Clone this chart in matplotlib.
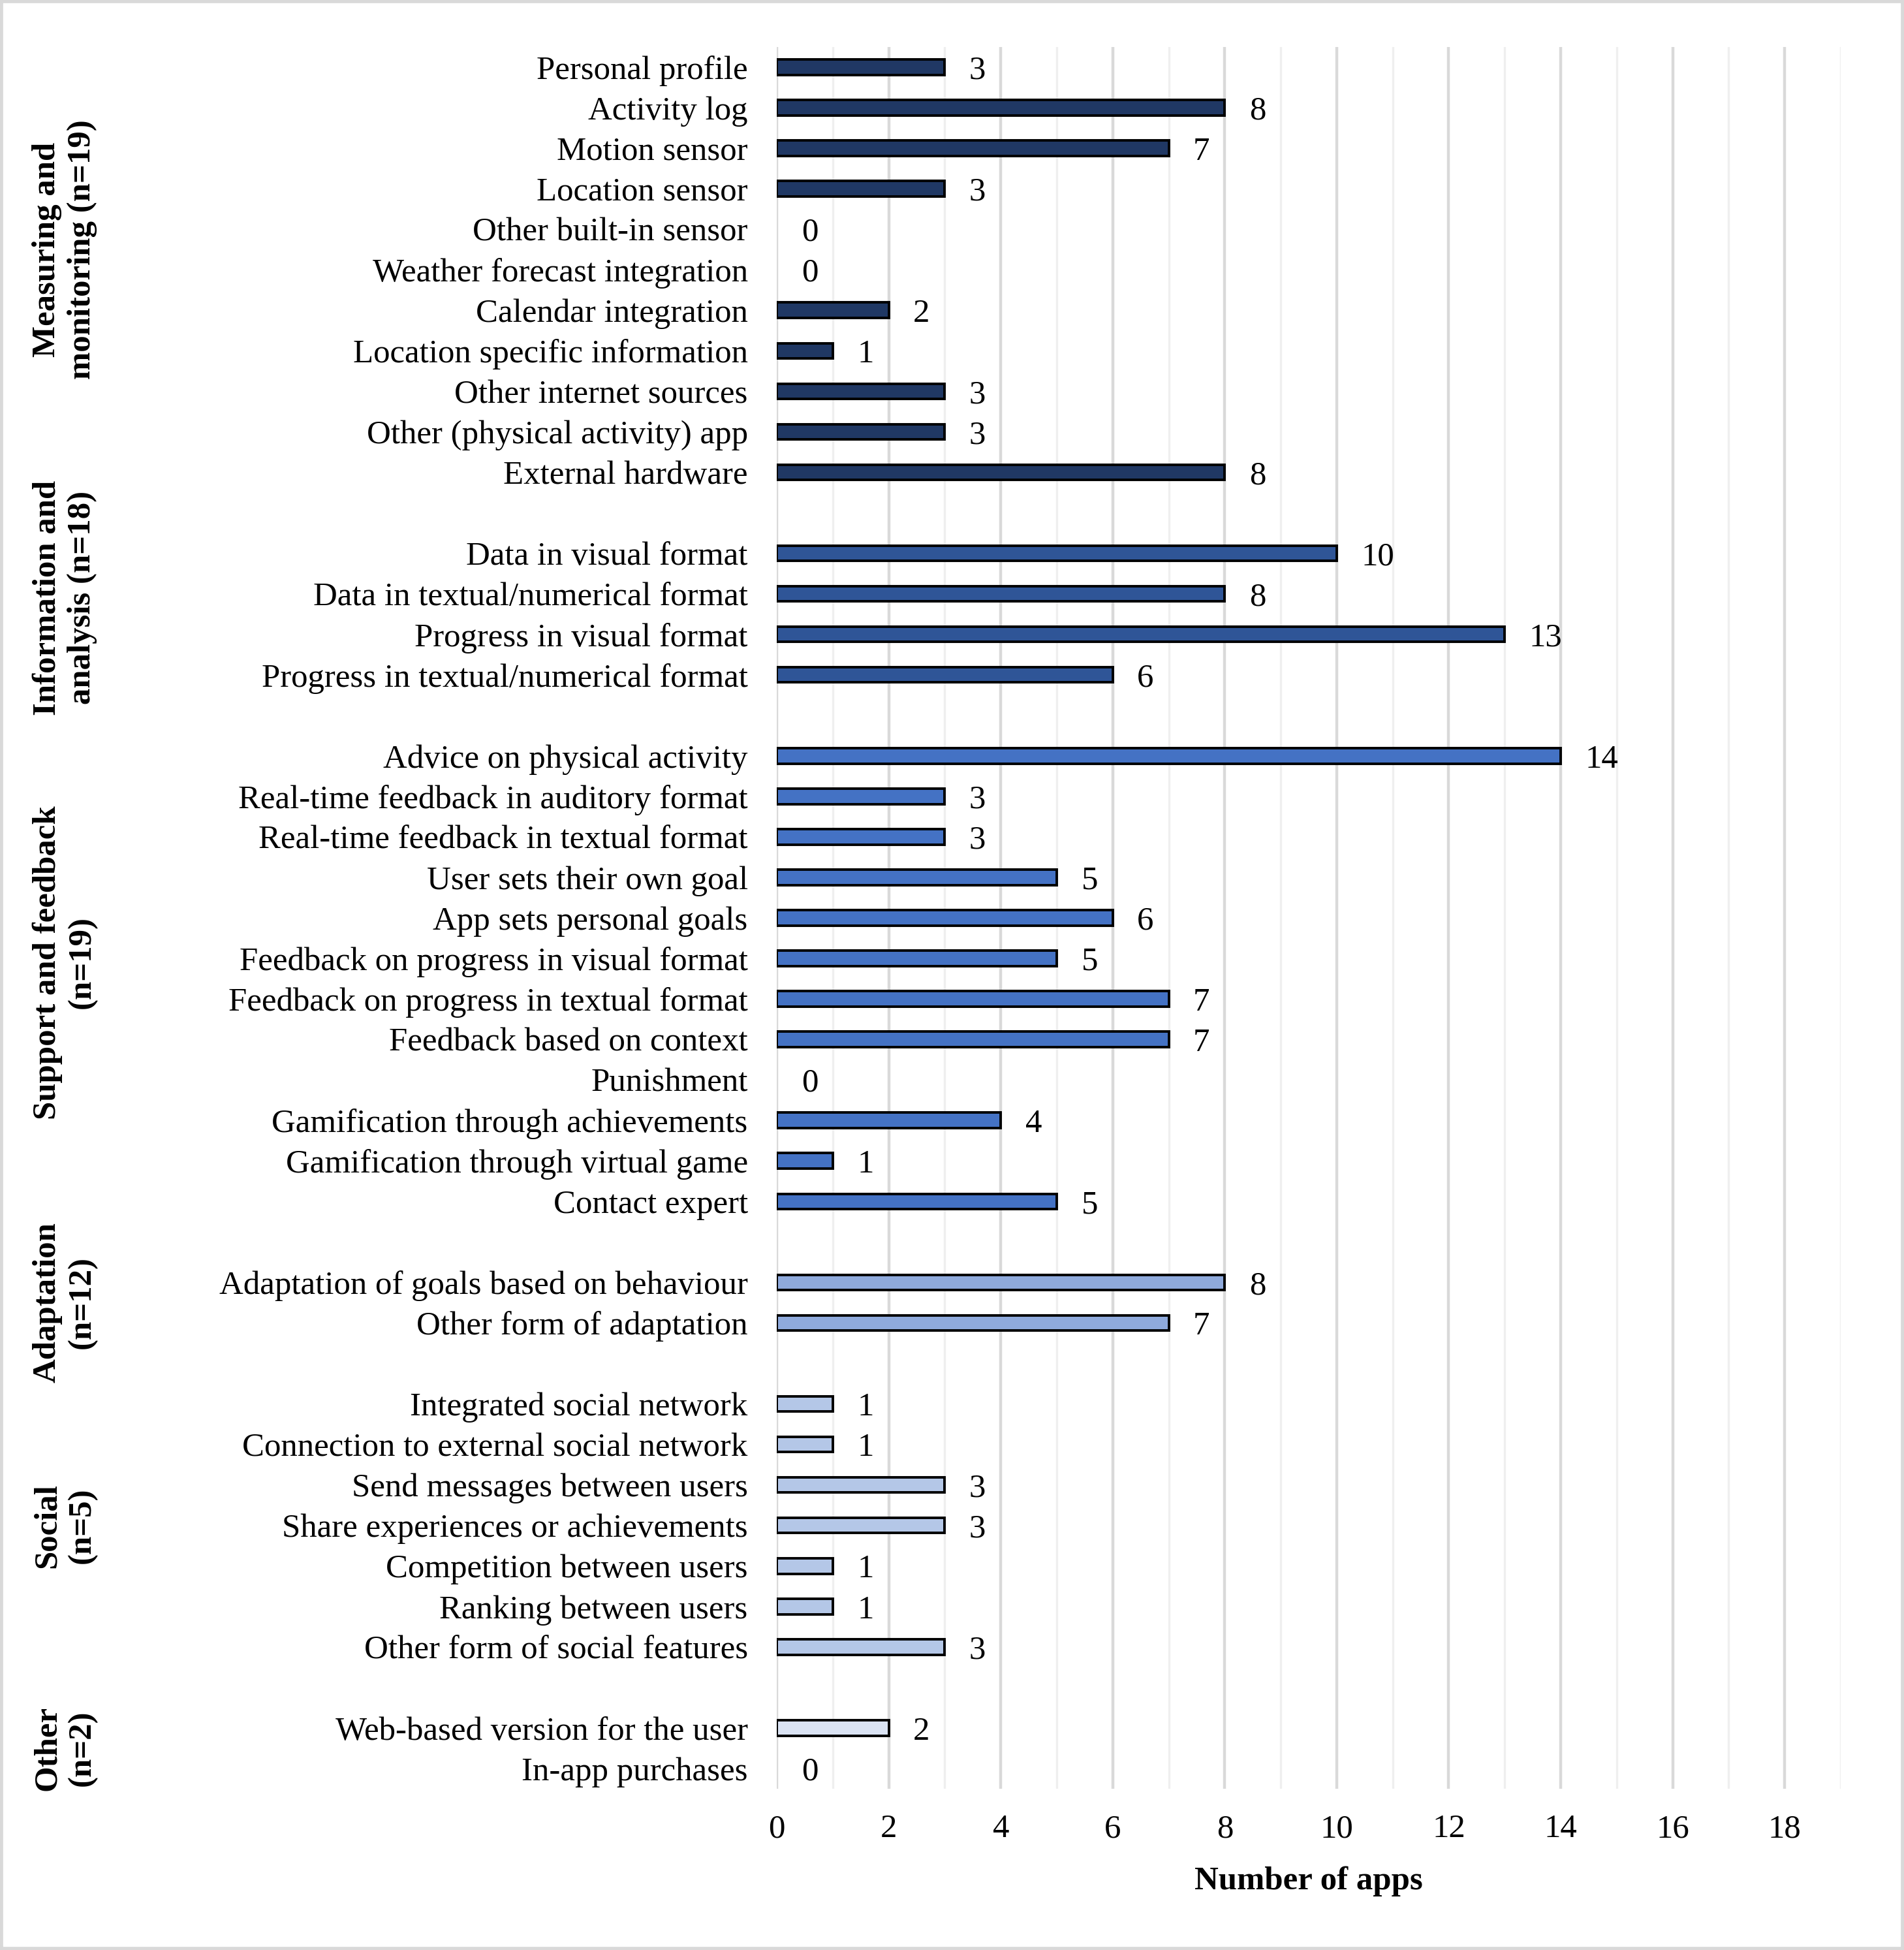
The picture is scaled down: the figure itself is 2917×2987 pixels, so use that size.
"""Horizontal bar chart: number of apps per feature, grouped by feature category."""

import matplotlib.pyplot as plt
import matplotlib.transforms as mtransforms
from matplotlib.patches import Rectangle

plt.rcParams['font.family'] = ['Liberation Serif', 'DejaVu Serif']

group_names = ['Measuring and\nmonitoring (n=19)', 'Information and\nanalysis (n=18)',
               'Support and feedback\n(n=19)', 'Adaptation\n(n=12)',
               'Social\n(n=5)', 'Other\n(n=2)']

measuring = ['Personal profile', 'Activity log', 'Motion sensor', 'Location sensor',
             'Other built-in sensor', 'Weather forecast integration',
             'Calendar integration', 'Location specific information',
             'Other internet sources', 'Other (physical activity) app',
             'External hardware']
measuring_n = [3, 8, 7, 3, 0, 0, 2, 1, 3, 3, 8]

information = ['Data in visual format', 'Data in textual/numerical format',
               'Progress in visual format', 'Progress in textual/numerical format']
information_n = [10, 8, 13, 6]

support = ['Advice on physical activity', 'Real-time feedback in auditory format',
           'Real-time feedback in textual format', 'User sets their own goal',
           'App sets personal goals', 'Feedback on progress in visual format',
           'Feedback on progress in textual format', 'Feedback based on context',
           'Punishment', 'Gamification through achievements',
           'Gamification through virtual game', 'Contact expert']
support_n = [14, 3, 3, 5, 6, 5, 7, 7, 0, 4, 1, 5]

adaptation = ['Adaptation of goals based on behaviour', 'Other form of adaptation']
adaptation_n = [8, 7]

social = ['Integrated social network', 'Connection to external social network',
          'Send messages between users', 'Share experiences or achievements',
          'Competition between users', 'Ranking between users',
          'Other form of social features']
social_n = [1, 1, 3, 3, 1, 1, 3]

other = ['Web-based version for the user', 'In-app purchases']
other_n = [2, 0]

groups = [(measuring, measuring_n), (information, information_n), (support, support_n),
          (adaptation, adaptation_n), (social, social_n), (other, other_n)]
colors = ['#203864', '#2F5597', '#4472C4', '#8FAADC', '#B4C7E7', '#DAE3F3']
label_shift = [-0.5, -0.4, -0.4, 0, 0, 0]

fig = plt.figure(figsize=(29.17, 29.87), dpi=100)
ax = fig.add_axes([0.408, 0.0827, 0.5587, 0.8932])

FS = 36.6
pos = 0
ticks, ticklabels, centers = [], [], []
for (names, vals), col in zip(groups, colors):
    ys = list(range(pos, pos + len(names)))
    bars = ax.barh(ys, vals, height=0.38, color=col, edgecolor='black',
                   linewidth=2.8, zorder=3)
    for b, v in zip(bars, vals):
        if v == 0:
            b.set_visible(False)
        ax.annotate(str(v), (v, b.get_y() + b.get_height() / 2),
                    xytext=(27, 0), textcoords='offset points',
                    ha='left', va='center_baseline', fontsize=FS)
    ticks += ys
    ticklabels += names
    centers.append((ys[0] + ys[-1]) / 2)
    pos += len(names) + 1

ax.set_ylim(pos - 1.5, -0.5)
ax.set_xlim(0, 19)
ax.set_yticks(ticks)
ax.set_yticklabels(ticklabels, fontsize=FS)
ax.set_xticks(range(0, 19, 2))
ax.tick_params(axis='x', labelsize=FS, length=0, pad=28)
ax.tick_params(axis='y', length=0, pad=32)
for s in ax.spines.values():
    s.set_visible(False)

for x in range(0, 20):
    if x % 2 == 0:
        ax.axvline(x, color='#d9d9d9', lw=3.2, zorder=1)
    else:
        ax.axvline(x, color='#efefef', lw=2.4, zorder=1)

ax.set_xlabel('Number of apps', fontsize=FS, fontweight='bold', labelpad=24)

trans = mtransforms.blended_transform_factory(fig.transFigure, ax.transData)
for name, c, sh in zip(group_names, centers, label_shift):
    ax.text(0.034, c + sh, name, transform=trans, rotation=90, ha='center',
            va='center', multialignment='center', fontsize=FS, fontweight='bold',
            linespacing=1.2)

fig.patches.append(Rectangle((0, 0), 1, 1, transform=fig.transFigure, fill=False,
                             edgecolor='#d9d9d9', linewidth=7, zorder=10))

plt.savefig('out.png', dpi=100)
